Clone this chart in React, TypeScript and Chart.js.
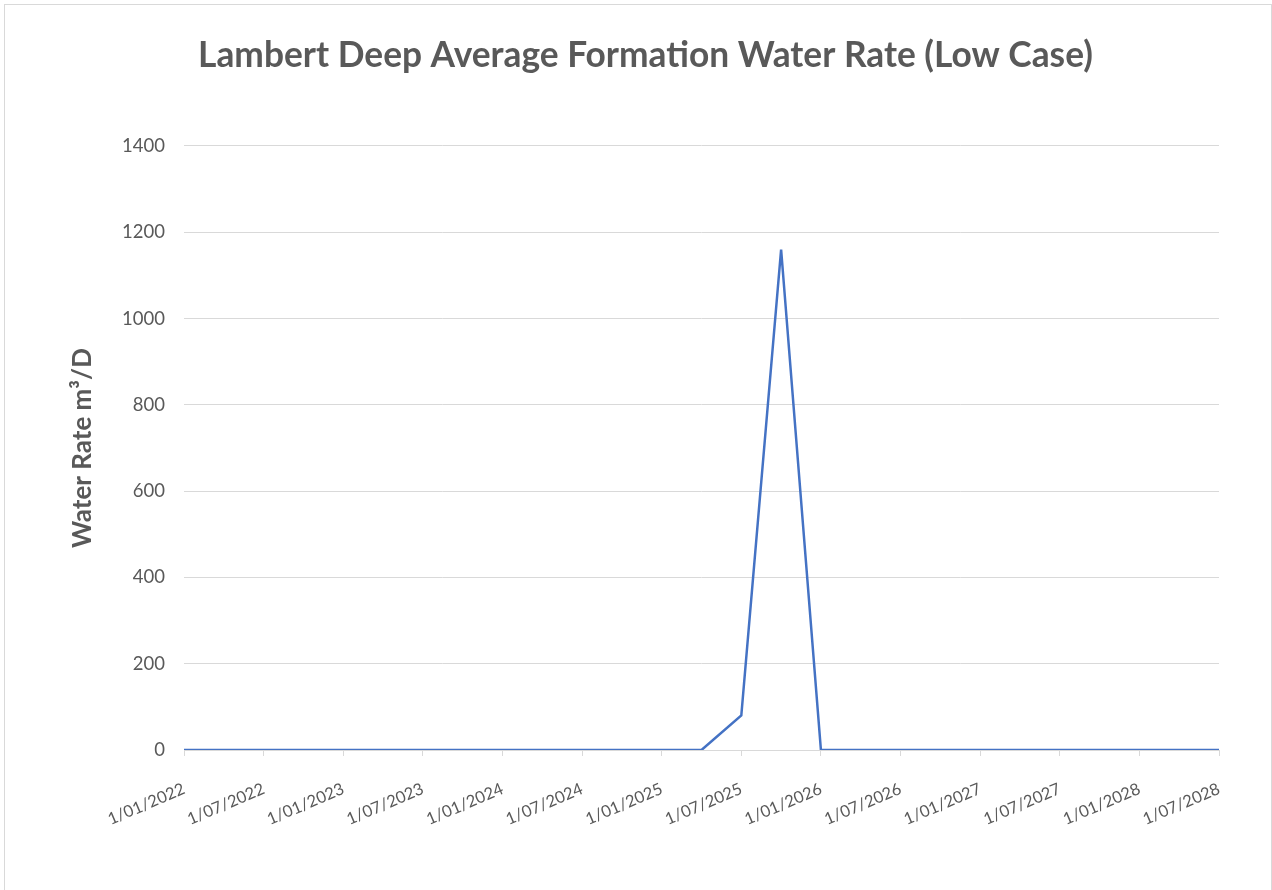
import React, { useEffect, useRef } from "react";
import { Chart, registerables } from "chart.js";

Chart.register(...registerables);

const CHART_TITLE = "Lambert Deep Average Formation Water Rate (Low Case)";
const Y_AXIS_TITLE = "Water Rate m\u00B3/D";

const categories = [
  "1/01/2022", "1/04/2022", "1/07/2022", "1/10/2022",
  "1/01/2023", "1/04/2023", "1/07/2023", "1/10/2023",
  "1/01/2024", "1/04/2024", "1/07/2024", "1/10/2024",
  "1/01/2025", "1/04/2025", "1/07/2025", "1/10/2025",
  "1/01/2026", "1/04/2026", "1/07/2026", "1/10/2026",
  "1/01/2027", "1/04/2027", "1/07/2027", "1/10/2027",
  "1/01/2028", "1/04/2028", "1/07/2028",
];

const waterRate = [
  0, 0, 0, 0,
  0, 0, 0, 0,
  0, 0, 0, 0,
  0, 0, 80, 1160,
  0, 0, 0, 0,
  0, 0, 0, 0,
  0, 0, 0,
];

const yMin = 0;
const yMax = 1400;
const yStep = 200;

const FONT = "Lato, 'Open Sans', sans-serif";
const TEXT = "#595959";
const GRID = "#d9d9d9";

export default function App() {
  const ref = useRef<HTMLCanvasElement | null>(null);

  useEffect(() => {
    if (!ref.current) return;
    const chart = new Chart(ref.current, {
      type: "line",
      data: {
        labels: categories,
        datasets: [
          {
            label: "Water Rate",
            data: waterRate,
            borderColor: "#4472C4",
            backgroundColor: "#4472C4",
            borderWidth: 2.5,
            pointRadius: 0,
            tension: 0,
            fill: false,
          },
        ],
      },
      options: {
        responsive: false,
        animation: false,
        layout: { padding: { left: 67, right: 52, top: 0, bottom: 0 } },
        plugins: {
          legend: { display: false },
          tooltip: { enabled: false },
          title: {
            display: true,
            text: CHART_TITLE,
            color: TEXT,
            font: { family: FONT, size: 35.3, weight: "bold" },
            padding: { top: 29, bottom: 69.6 },
          },
        },
        scales: {
          x: {
            type: "category",
            offset: false,
            grid: {
              drawOnChartArea: false,
              drawTicks: true,
              tickLength: 6,
              color: (ctx: any) => (ctx.index % 2 === 0 ? GRID : "rgba(0,0,0,0)"),
            },
            border: { display: true, color: GRID, width: 1 },
            ticks: {
              autoSkip: false,
              minRotation: 23,
              maxRotation: 23,
              padding: 23,
              color: TEXT,
              font: { family: FONT, size: 16.5 },
              callback: (_v: any, i: number) => (i % 2 === 0 ? categories[i] : ""),
            },
            afterFit: (scale: any) => {
              scale.height = 140;
            },
          },
          y: {
            min: yMin,
            max: yMax,
            border: { display: false },
            grid: { color: GRID, drawTicks: false },
            ticks: {
              stepSize: yStep,
              padding: 19,
              color: TEXT,
              font: { family: FONT, size: 18.5 },
              callback: (v: any) => String(v),
            },
            title: {
              display: true,
              text: Y_AXIS_TITLE,
              color: TEXT,
              font: { family: FONT, size: 26, weight: "bold" },
              padding: { top: -4.6, bottom: 0 },
            },
            afterFit: (scale: any) => {
              scale.width = 112;
            },
          },
        },
      },
    });
    return () => chart.destroy();
  }, []);

  return (
    <div
      style={{
        position: "absolute",
        left: 4,
        top: 4,
        width: 1268,
        height: 900,
        border: "1px solid #d9d9d9",
        boxSizing: "border-box",
        background: "#fff",
      }}
    >
      <canvas ref={ref} width={1266} height={885} style={{ display: "block" }} />
    </div>
  );
}
